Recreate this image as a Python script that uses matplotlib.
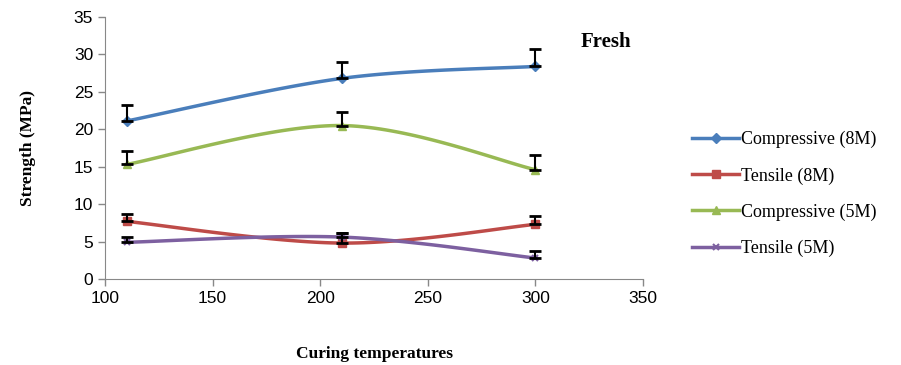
import numpy as np
import matplotlib
matplotlib.use("Agg")
import matplotlib.pyplot as plt

# data
temps = [110, 210, 300]
comp_8m = [21.1, 26.8, 28.4]
tens_8m = [7.7, 4.8, 7.3]
comp_5m = [15.3, 20.5, 14.6]
tens_5m = [4.9, 5.6, 2.8]
err_comp_8m = [2.2, 2.2, 2.3]
err_tens_8m = [1.0, 1.4, 1.1]
err_comp_5m = [1.8, 1.8, 1.9]
err_tens_5m = [0.7, 0.6, 0.9]

names = ["Compressive (8M)", "Tensile (8M)", "Compressive (5M)", "Tensile (5M)"]
colors = ["#4A7EBB", "#BE4B48", "#98B954", "#7D60A0"]
markers = ["D", "s", "^", "x"]


def smooth(x, y, n=40):
    # Excel-like smoothed line (cubic bezier through the points)
    x = np.asarray(x, float); y = np.asarray(y, float)
    p = np.column_stack([x, y])
    pts = np.vstack([p[0], p, p[-1]])
    out = []
    t = np.linspace(0, 1, n)[:, None]
    for i in range(1, len(pts) - 2):
        p0, p1, p2, p3 = pts[i - 1], pts[i], pts[i + 1], pts[i + 2]
        c1 = p1 + (p2 - p0) / 6
        c2 = p2 - (p3 - p1) / 6
        seg = (1 - t) ** 3 * p1 + 3 * (1 - t) ** 2 * t * c1 + 3 * (1 - t) * t ** 2 * c2 + t ** 3 * p2
        out.append(seg)
    s = np.vstack(out)
    return s[:, 0], s[:, 1]


fig = plt.figure(figsize=(9.01, 3.65), dpi=100)
ax = fig.add_axes([105 / 901, 1 - 279 / 365, (643 - 105) / 901, (279 - 17) / 365])

series = [comp_8m, tens_8m, comp_5m, tens_5m]
errs = [err_comp_8m, err_tens_8m, err_comp_5m, err_tens_5m]
handles = []
for vals, e, c, m, name in zip(series, errs, colors, markers, names):
    sx, sy = smooth(temps, vals)
    ax.plot(sx, sy, color=c, lw=2.5, zorder=2)
    ax.errorbar(temps, vals, yerr=[np.zeros(3), e], fmt="none", ecolor="black",
                elinewidth=1.5, capsize=4, capthick=2, zorder=4)
    ms = 5.5 if m != "x" else 5
    ax.plot(temps, vals, ls="none", marker=m, color=c, ms=ms, mew=1.5 if m == "x" else 1, zorder=3)
    h, = ax.plot([], [], color=c, lw=2.5, marker=m, ms=ms, mew=1.5 if m == "x" else 1)
    handles.append(h)

ax.set_xlim(100, 350)
ax.set_ylim(0, 35)
ax.set_xticks(np.arange(100, 351, 50))
ax.set_yticks(np.arange(0, 36, 5))
for s in ["top", "right"]:
    ax.spines[s].set_visible(False)
for s in ["left", "bottom"]:
    ax.spines[s].set_color("#888888")
ax.tick_params(colors="#888888", labelcolor="black", direction="out", length=5, width=1, labelsize=12.5)
for lab in ax.get_xticklabels() + ax.get_yticklabels():
    lab.set_family("Liberation Sans")

ax.set_ylabel("Strength (MPa)", family="Liberation Serif", fontweight="bold", fontsize=12.5, labelpad=27)
ax.set_xlabel("Curing temperatures", family="Liberation Serif", fontweight="bold", fontsize=12.5, labelpad=29)
ax.text(333, 31.6, "Fresh", family="Liberation Serif", fontweight="bold", fontsize=15, ha="center", va="center")

fig.legend(handles, names, loc="center left", bbox_to_anchor=(676 / 901, 1 - 194 / 365), frameon=False,
           prop={"family": "Liberation Serif", "size": 13}, handlelength=2.6, handletextpad=0.1,
           labelspacing=1.05)

fig.savefig("out.png", dpi=100)
